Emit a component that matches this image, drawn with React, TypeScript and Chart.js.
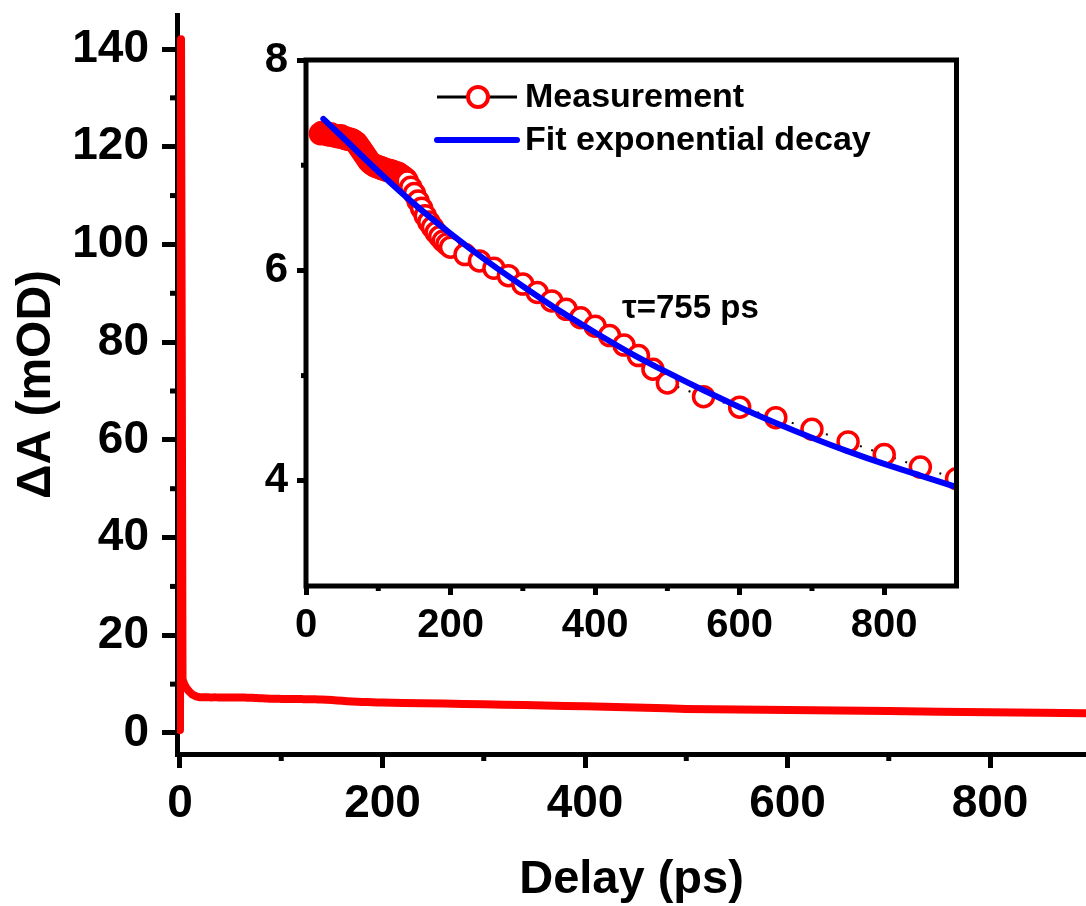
import React, { useEffect, useRef } from 'react';
import { Chart, registerables } from 'chart.js';

Chart.register(...registerables);

const FONT = "'Liberation Sans', Arial, Helvetica, sans-serif";

// ---------- data ----------
// main trace: initial spike (ps, mOD)
const earlyDelay = [0, 1, 2.5, 4, 6, 9, 12, 16];
const earlyDA = [0.6, 142, 11, 10.1, 9.3, 8.5, 7.9, 7.5];

// measured points (ps, mOD) shown in the inset and continuing the main trace
const measDelay = [
  20, 22, 24, 26, 28, 30, 32, 34, 36, 38, 40, 42, 44, 46, 48, 50, 52, 54, 56, 58,
  60, 62, 64, 66, 68, 70, 72, 74, 76, 78, 80, 82, 84, 86, 88, 90, 92, 94, 96, 98,
  100, 102, 104, 106, 108, 110, 112, 114, 116, 118, 120, 122, 124, 126, 128, 130,
  132, 134, 136, 138, 140,
  145, 150, 155, 160, 165, 170, 175, 180, 185, 190, 195,
  200, 220, 240, 260, 280, 300, 320, 340, 360, 380, 400, 420, 440, 460, 480, 500,
  550, 600, 650, 700, 750, 800, 850, 900,
];
const measDA = [
  7.30, 7.31, 7.31, 7.30, 7.30, 7.29, 7.29, 7.30, 7.29, 7.28, 7.28, 7.28, 7.27, 7.27, 7.28, 7.27, 7.26, 7.26, 7.25, 7.25,
  7.25, 7.24, 7.24, 7.23, 7.22, 7.21, 7.19, 7.17, 7.15, 7.13, 7.11, 7.09, 7.07, 7.05, 7.03, 7.02, 7.01, 7.00, 6.99, 6.99,
  6.98, 6.98, 6.97, 6.97, 6.96, 6.96, 6.95, 6.95, 6.95, 6.94, 6.94, 6.93, 6.93, 6.92, 6.92, 6.91,
  6.90, 6.89, 6.88, 6.87, 6.85,
  6.79, 6.73, 6.66, 6.59, 6.52, 6.46, 6.41, 6.36, 6.32, 6.28, 6.25,
  6.22, 6.15, 6.09, 6.02, 5.95, 5.87, 5.79, 5.71, 5.63, 5.55, 5.47, 5.38, 5.29, 5.19, 5.06, 4.93,
  4.80, 4.70, 4.60, 4.49, 4.37, 4.25, 4.13, 4.02,
];

// exponential-decay fit curve (ps, mOD)
const fitDelay = [24, 50, 100, 150, 200, 250, 300, 350, 400, 450, 500, 550, 600, 650, 700, 750, 800, 850, 900];
const fitDA = [7.44, 7.27, 6.94, 6.63, 6.35, 6.09, 5.85, 5.62, 5.41, 5.21, 5.03, 4.86, 4.70, 4.55, 4.41, 4.28, 4.16, 4.05, 3.94];

// ticks
const mainXTicks = [0, 200, 400, 600, 800];
const mainXMinor = [100, 300, 500, 700];
const mainYTicks = [0, 20, 40, 60, 80, 100, 120, 140];
const mainYMinor = [10, 30, 50, 70, 90, 110, 130];
const insetXTicks = [0, 200, 400, 600, 800];
const insetXMinor = [100, 300, 500, 700];
const insetYTicks = [4, 6, 8];
const insetYMinor = [5, 7];

const xTitle = 'Delay (ps)';
const yTitle = 'ΔA (mOD)';
const measLabel = 'Measurement';
const fitLabel = 'Fit exponential decay';
const tauLabel = 'τ=755 ps';

const RED = '#ff0000';
const BLUE = '#0000ff';

function toXY(xs: number[], ys: number[]) {
  return xs.map((x, i) => ({ x, y: ys[i] }));
}

function minorTickPlugin(spec: { id: string; values: number[]; len: number; width: number }[]) {
  return {
    id: 'minorTicks',
    afterDraw(chart: any) {
      const ctx = chart.ctx;
      const area = chart.chartArea;
      ctx.save();
      ctx.strokeStyle = '#000';
      for (const s of spec) {
        const scale = chart.scales[s.id];
        ctx.lineWidth = s.width;
        for (const v of s.values) {
          const p = scale.getPixelForValue(v);
          ctx.beginPath();
          if (scale.isHorizontal()) {
            ctx.moveTo(p, area.bottom);
            ctx.lineTo(p, area.bottom + s.len);
          } else {
            ctx.moveTo(area.left, p);
            ctx.lineTo(area.left - s.len, p);
          }
          ctx.stroke();
        }
      }
      ctx.restore();
    },
  };
}

function setTicks(values: number[]) {
  return (scale: any) => {
    scale.ticks = values.map((v) => ({ value: v }));
  };
}

function fitX(h: number) {
  return (s: any) => {
    s.height = h;
    s.paddingLeft = 0;
    s.paddingRight = 0;
  };
}

function fitY(w: number) {
  return (s: any) => {
    s.width = w;
    s.paddingTop = 0;
    s.paddingBottom = 0;
  };
}

function MainChart() {
  const ref = useRef<HTMLCanvasElement | null>(null);
  useEffect(() => {
    if (!ref.current) return;
    const data = toXY(earlyDelay.concat(measDelay), earlyDA.concat(measDA));
    const chart = new Chart(ref.current, {
      type: 'line',
      data: {
        datasets: [
          {
            label: 'ΔA',
            data,
            borderColor: RED,
            backgroundColor: RED,
            borderWidth: 8,
            pointRadius: 0,
            tension: 0,
            borderJoinStyle: 'round',
            borderCapStyle: 'round',
          },
        ],
      },
      options: {
        animation: false,
        responsive: false,
        maintainAspectRatio: false,
        layout: { padding: { top: 15, right: 0, bottom: 0, left: 0 } },
        plugins: { legend: { display: false }, tooltip: { enabled: false } },
        scales: {
          x: {
            type: 'linear',
            position: 'bottom',
            min: -2.96,
            max: 894.8,
            afterBuildTicks: setTicks(mainXTicks),
            afterFit: fitX(152),
            ticks: {
              color: '#000',
              font: { family: FONT, size: 46, weight: 'bold' },
              padding: 9,
              maxRotation: 0,
              autoSkip: false,
            },
            grid: {
              drawOnChartArea: false,
              drawTicks: true,
              tickLength: 14,
              tickWidth: 5,
              tickColor: '#000',
              lineWidth: 5,
              color: '#000',
            },
            border: { display: true, width: 5, color: '#000' },
            title: {
              display: true,
              text: xTitle,
              color: '#000',
              font: { family: FONT, size: 47, weight: 'bold', lineHeight: 1 },
              padding: { top: 0, bottom: 2 },
            },
          },
          y: {
            type: 'linear',
            position: 'left',
            min: -4.3,
            max: 146.96,
            afterBuildTicks: setTicks(mainYTicks),
            afterFit: fitY(177),
            ticks: {
              color: '#000',
              font: { family: FONT, size: 46, weight: 'bold' },
              padding: 13,
              autoSkip: false,
            },
            grid: {
              drawOnChartArea: false,
              drawTicks: true,
              tickLength: 15,
              tickWidth: 5,
              tickColor: '#000',
              lineWidth: 5,
              color: '#000',
            },
            border: { display: true, width: 5, color: '#000' },
            title: {
              display: true,
              text: yTitle,
              color: '#000',
              font: { family: FONT, size: 48, weight: 'bold', lineHeight: 1 },
              padding: { top: 13, bottom: 0 },
            },
          },
        },
      },
      plugins: [
        minorTickPlugin([
          { id: 'x', values: mainXMinor, len: 7, width: 5 },
          { id: 'y', values: mainYMinor, len: 7, width: 5 },
        ]),
      ],
    } as any);
    return () => chart.destroy();
  }, []);
  return (
    <canvas
      ref={ref}
      width={1086}
      height={906}
      style={{ position: 'absolute', left: 0, top: 0, width: 1086, height: 906, display: 'block' }}
    />
  );
}

const insetDecor = {
  id: 'insetDecor',
  afterDraw(chart: any) {
    const ctx = chart.ctx;
    const a = chart.chartArea;
    ctx.save();
    // box
    ctx.strokeStyle = '#000';
    ctx.lineWidth = 5;
    ctx.strokeRect(a.left, a.top, a.right - a.left, a.bottom - a.top);

    const ds = chart.data.datasets;
    const meas = ds.find((d: any) => d.label === measLabel);
    const fit = ds.find((d: any) => d.label === fitLabel);
    const lx0 = a.left + 131;
    const lx1 = a.left + 211;
    const cx = a.left + 172;
    const tx = a.left + 219;
    const y1 = 57;
    const y2 = 100;
    // measurement entry
    ctx.strokeStyle = '#000';
    ctx.lineWidth = 3;
    ctx.beginPath();
    ctx.moveTo(lx0, y1);
    ctx.lineTo(lx1, y1);
    ctx.stroke();
    ctx.beginPath();
    ctx.arc(cx, y1, 10, 0, Math.PI * 2);
    ctx.fillStyle = '#fff';
    ctx.fill();
    ctx.strokeStyle = RED;
    ctx.lineWidth = 4;
    ctx.stroke();
    // fit entry
    ctx.strokeStyle = BLUE;
    ctx.lineWidth = 6;
    ctx.lineCap = 'round';
    ctx.beginPath();
    ctx.moveTo(lx0, y2);
    ctx.lineTo(lx1, y2);
    ctx.stroke();

    ctx.fillStyle = '#000';
    ctx.textAlign = 'left';
    ctx.textBaseline = 'middle';
    ctx.font = `bold 34px ${FONT}`;
    ctx.fillText(meas ? meas.label : measLabel, tx, y1 + 1);
    ctx.fillText(fit ? fit.label : fitLabel, tx, y2 + 1);

    // tau annotation
    ctx.font = `bold 33px ${FONT}`;
    ctx.fillText(tauLabel, a.left + 316, 269);
    ctx.restore();
  },
};

function InsetChart() {
  const ref = useRef<HTMLCanvasElement | null>(null);
  useEffect(() => {
    if (!ref.current) return;
    const chart = new Chart(ref.current, {
      type: 'line',
      data: {
        datasets: [
          {
            label: fitLabel,
            data: toXY(fitDelay, fitDA),
            borderColor: BLUE,
            backgroundColor: BLUE,
            borderWidth: 6,
            pointRadius: 0,
            cubicInterpolationMode: 'monotone',
            borderCapStyle: 'round',
            clip: 0,
            order: 0,
          },
          {
            label: measLabel,
            data: toXY(measDelay, measDA),
            borderColor: '#000',
            backgroundColor: '#fff',
            borderWidth: 2,
            borderDash: [2, 10],
            tension: 0,
            pointRadius: 10,
            pointBorderWidth: 3.5,
            pointBorderColor: RED,
            pointBackgroundColor: '#fff',
            pointStyle: 'circle',
            clip: 0,
            order: 1,
          },
        ],
      },
      options: {
        animation: false,
        responsive: false,
        maintainAspectRatio: false,
        layout: { padding: { top: 20, right: 12, bottom: 0, left: 0 } },
        plugins: { legend: { display: false }, tooltip: { enabled: false } },
        scales: {
          x: {
            type: 'linear',
            position: 'bottom',
            min: 0,
            max: 900,
            afterBuildTicks: setTicks(insetXTicks),
            afterFit: fitX(74),
            ticks: {
              color: '#000',
              font: { family: FONT, size: 40, weight: 'bold' },
              padding: 7,
              maxRotation: 0,
              autoSkip: false,
            },
            grid: {
              drawOnChartArea: false,
              drawTicks: true,
              tickLength: 9,
              tickWidth: 5,
              tickColor: '#000',
              lineWidth: 5,
              color: '#000',
            },
            border: { display: false },
          },
          y: {
            type: 'linear',
            position: 'left',
            min: 3,
            max: 8,
            afterBuildTicks: setTicks(insetYTicks),
            afterFit: fitY(76),
            ticks: {
              color: '#000',
              font: { family: FONT, size: 42, weight: 'bold' },
              padding: 9,
              autoSkip: false,
            },
            grid: {
              drawOnChartArea: false,
              drawTicks: true,
              tickLength: 9,
              tickWidth: 5,
              tickColor: '#000',
              lineWidth: 5,
              color: '#000',
            },
            border: { display: false },
          },
        },
      },
      plugins: [
        insetDecor,
        minorTickPlugin([
          { id: 'x', values: insetXMinor, len: 5, width: 5 },
          { id: 'y', values: insetYMinor, len: 5, width: 5 },
        ]),
      ],
    } as any);
    return () => chart.destroy();
  }, []);
  return (
    <canvas
      ref={ref}
      width={740}
      height={620}
      style={{ position: 'absolute', left: 230, top: 40, width: 740, height: 620, display: 'block' }}
    />
  );
}

export default function App() {
  return (
    <div style={{ position: 'absolute', left: 0, top: 0, width: 1086, height: 906, background: '#fff', overflow: 'hidden' }}>
      <MainChart />
      <InsetChart />
    </div>
  );
}
